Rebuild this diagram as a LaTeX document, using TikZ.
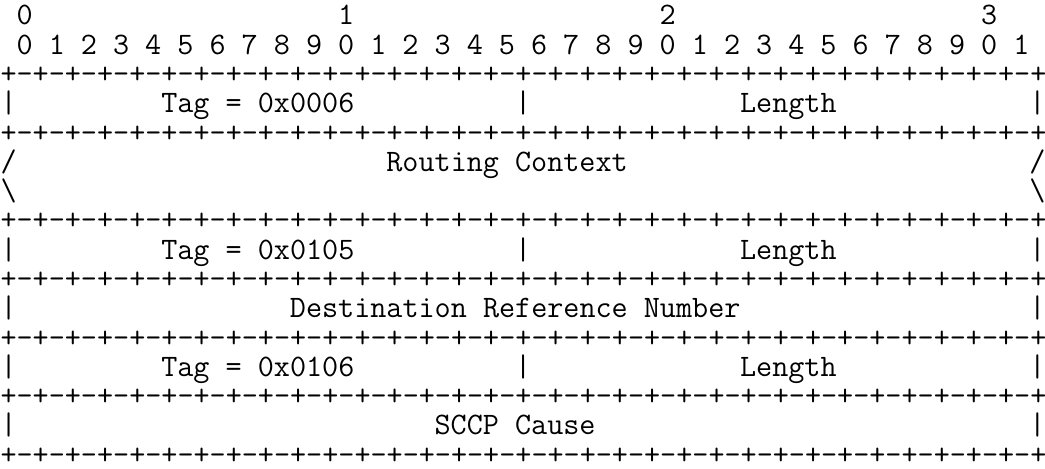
\documentclass[tikz,border=0pt]{standalone}
\usepackage{fontspec}
\newcommand{\bitrule}{+-+-+-+-+-+-+-+-+-+-+-+-+-+-+-+-+-+-+-+-+-+-+-+-+-+-+-+-+-+-+-+-+}

\begin{document}
\begin{tikzpicture}[x=6pt, y=10.93pt,
    cell/.style={font=\ttfamily\fontsize{11.66}{13}\selectfont, inner sep=0pt, anchor=base west}
]
\useasboundingbox (0,0) rectangle (65,-16.007);
% bit numbering
\foreach \t in {0,...,3}
  \node[cell] (tens\t) at (20*\t+1,-0.853) {\t};
\foreach \b in {0,...,31}{
  \pgfmathtruncatemacro{\d}{mod(\b,10)}
  \node[cell] (bit\b) at (2*\b+1,-1.853) {\d};
}
% separator lines
\foreach \r in {2,4,7,9,11,13,15}
  \node[cell] (rule\r) at (0,-\r-0.853) {\bitrule};
% tag / length words
\foreach \r/\tag in {3/0x0006, 8/0x0105, 12/0x0106}{
  \node[cell] (barl\r) at (0,-\r-0.853) {|};
  \node[cell] (tag\r) at (10,-\r-0.853) {Tag = \tag};
  \node[cell] (barm\r) at (32,-\r-0.853) {|};
  \node[cell] (len\r) at (46,-\r-0.853) {Length};
  \node[cell] (barr\r) at (64,-\r-0.853) {|};
}
% routing context (variable length)
\node[cell] (slashl) at (0,-5.853) {/};
\node[cell] (rctx) at (24,-5.853) {Routing Context};
\node[cell] (slashr) at (64,-5.853) {/};
\node[cell] (bslashl) at (0,-6.853) {\textbackslash};
\node[cell] (bslashr) at (64,-6.853) {\textbackslash};
% destination reference number
\node[cell] (barl10) at (0,-10.853) {|};
\node[cell] (dref) at (18,-10.853) {Destination Reference Number};
\node[cell] (barr10) at (64,-10.853) {|};
% sccp cause
\node[cell] (barl14) at (0,-14.853) {|};
\node[cell] (cause) at (27,-14.853) {SCCP Cause};
\node[cell] (barr14) at (64,-14.853) {|};
\end{tikzpicture}
\end{document}
